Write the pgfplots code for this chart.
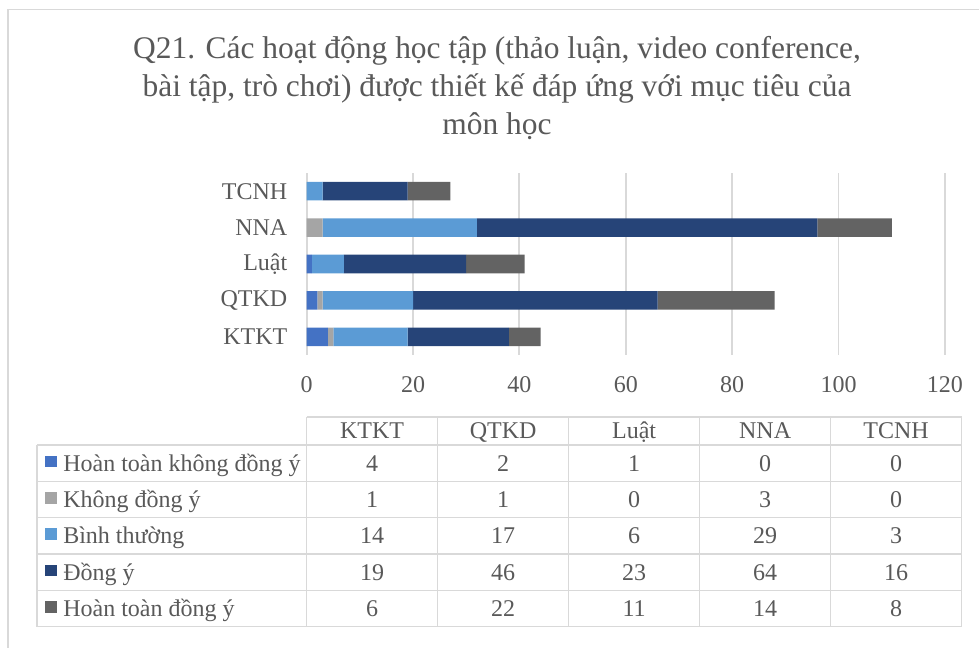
\documentclass[border=0pt]{standalone}
\usepackage{fontspec}
\setmainfont{Liberation Serif}
\usepackage{pgfplots}
\usepackage{pgfplotstable}
\pgfplotsset{compat=1.18}

\definecolor{htkdy}{HTML}{4472C4}
\definecolor{kdy}{HTML}{A5A5A5}
\definecolor{bt}{HTML}{5B9BD5}
\definecolor{dy}{HTML}{264478}
\definecolor{htdy}{HTML}{636363}
\definecolor{gridc}{HTML}{D9D9D9}
\definecolor{txt}{HTML}{595959}

% y: category position (KTKT at bottom); a..e: the five answers
\pgfplotstableread{
y cat  a b c  d  e
0 KTKT 4 1 14 19 6
1 QTKD 2 1 17 46 22
2 Luat 1 0 6  23 11
3 NNA  0 3 29 64 14
4 TCNH 0 0 3  16 8
}\data

\begin{document}
\begin{tikzpicture}[x=1pt,y=1pt]
\useasboundingbox (0,0) rectangle (734.25,-486);
\draw[line width=1.2pt, gridc] (6,-486) -- (6,-7.1) -- (734.25,-7.1);

\node[align=center, text=txt, font=\fontsize{23.6}{28.5}\selectfont] at (372.75,-66)
  {Q21. Các hoạt động học tập (thảo luận, video conference,\\
   bài tập, trò chơi) được thiết kế đáp ứng với mục tiêu của\\
   môn học};

\begin{axis}[
    at={(230pt,-266.25pt)}, anchor=south west,
    scale only axis, width=478.7pt, height=136.5pt,
    xbar stacked, bar width=0.51,
    xmin=0, xmax=120, ymin=-0.5, ymax=4.5,
    xtick={0,20,...,120}, ytick={0,...,4},
    yticklabels={KTKT,QTKD,Luật,NNA,TCNH},
    xmajorgrids, grid style={gridc, line width=1.4pt},
    axis line style={draw=none}, major tick length=0pt,
    ticklabel style={font=\fontsize{18}{21.6}\selectfont, text=txt},
    xticklabel style={anchor=base, yshift=-28.5pt},
    yticklabel style={anchor=east, xshift=-11pt},
    /pgf/number format/assume math mode=true,
    clip=false,
  ]
  \addplot[fill=htkdy, draw=none] table[x=a, y=y] {\data};
  \addplot[fill=kdy, draw=none] table[x=b, y=y] {\data};
  \addplot[fill=bt, draw=none] table[x=c, y=y] {\data};
  \addplot[fill=dy, draw=none] table[x=d, y=y] {\data};
  \addplot[fill=htdy, draw=none] table[x=e, y=y] {\data};
\end{axis}

% data table below the chart
\begin{scope}[gridc, line width=1.1pt]
  \draw (230,-312.75) -- (721.25,-312.75);
  \foreach \yy in {-333.75,-361,-388.25,-415.5,-442.75,-470}
    \draw (27.75,\yy) -- (721.25,\yy);
  \draw (27.75,-333.75) -- (27.75,-470);
  \foreach \xx in {230,328.25,426.5,524.75,623,721.25}
    \draw (\xx,-312.75) -- (\xx,-470);
\end{scope}

\foreach \h [count=\k from 0] in {KTKT,QTKD,Luật,NNA,TCNH}
  \node[anchor=base, text=txt, font=\fontsize{18}{21.6}\selectfont, inner sep=0pt]
    at (279.1+98.25*\k,-329.25) {\h};

\foreach \c/\t [count=\i from 0] in {htkdy/Hoàn toàn không đồng ý, kdy/Không đồng ý,
    bt/Bình thường, dy/Đồng ý, htdy/Hoàn toàn đồng ý} {
  \fill[\c] (33.75,-347.4-27.25*\i+5.75) rectangle ++(8.75,-8.75);
  \node[anchor=base west, text=txt, font=\fontsize{18}{21.6}\selectfont, inner sep=0pt]
    at (47.25,-353.4-27.25*\i) {\t};
}

\foreach \s [count=\i from 0] in {a,b,c,d,e} {
  \foreach \k in {0,...,4} {
    \pgfplotstablegetelem{\k}{\s}\of{\data}
    \node[anchor=base, text=txt, font=\fontsize{18}{21.6}\selectfont, inner sep=0pt]
      at (279.1+98.25*\k,-353.4-27.25*\i) {\pgfplotsretval};
  }
}
\end{tikzpicture}
\end{document}
